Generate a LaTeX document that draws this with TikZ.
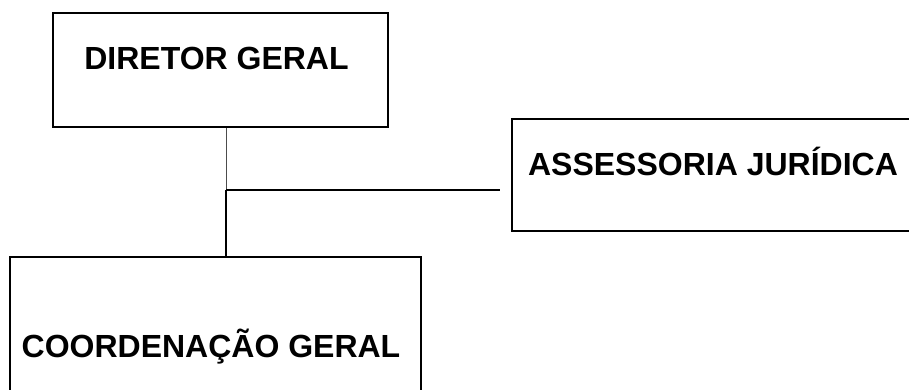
\documentclass[tikz,border=0pt]{standalone}
\usepackage{fontspec}
\setmainfont{Liberation Sans}
\begin{document}
\begin{tikzpicture}[x=1pt,y=-1pt,
  box/.style={draw=black, line width=2pt, fill=white, inner sep=0pt, anchor=north west},
  lbl/.style={font=\fontsize{32}{36}\selectfont\bfseries, inner sep=0pt, anchor=base},
  conn/.style={draw=black, line width=2pt},
  thinconn/.style={draw=black!70, line width=1pt}]
\clip (0,0) rectangle (909,389);
\fill[white] (0,0) rectangle (909,389);
% boxes
\node[box, minimum width=335pt, minimum height=114pt] (dir) at (52,12) {};
\node[lbl] (dirt) at (216.5,69) {DIRETOR GERAL};
\node[box, minimum width=460pt, minimum height=112pt] (ass) at (511,118) {};
\node[lbl] (asst) at (713,175) {ASSESSORIA JURÍDICA};
\node[box, minimum width=411pt, minimum height=160pt] (coo) at (9,256) {};
\node[lbl] (coot) at (211,357) {COORDENAÇÃO GERAL};
% connectors
\coordinate (j) at (226,190);
\coordinate (h) at (500,190);
\draw[thinconn] (j |- dir.south) -- (j);
\draw[conn] (j) -- (j |- coo.north);
\draw[conn] (j) -- (h);
\end{tikzpicture}
\end{document}
